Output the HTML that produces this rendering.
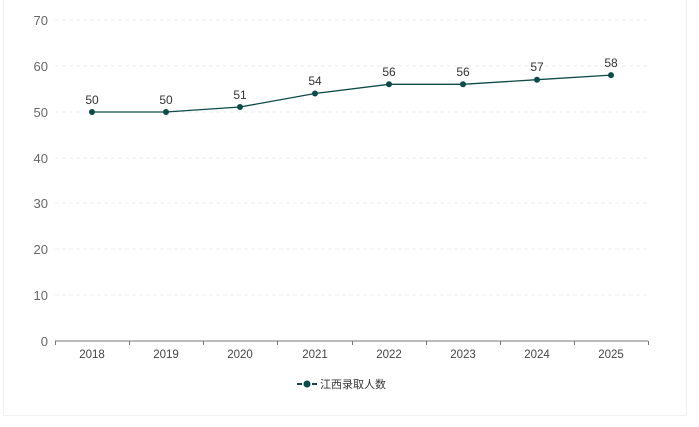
<!DOCTYPE html>
<html><head><meta charset="utf-8"><style>
body{margin:0;background:#fff;}
svg{display:block;font-family:"Liberation Sans","Noto Sans CJK SC",sans-serif;}
</style></head><body>
<svg width="699" height="427" viewBox="0 0 699 427">
<rect x="3.5" y="-2" width="683" height="417.5" fill="#fff" stroke="#eef2f2"/>
<g stroke="#ececec" stroke-dasharray="4,3">
<line x1="55" x2="648" y1="20" y2="20"/><line x1="55" x2="648" y1="66" y2="66"/>
<line x1="55" x2="648" y1="112" y2="112"/><line x1="55" x2="648" y1="158" y2="158"/>
<line x1="55" x2="648" y1="203" y2="203"/><line x1="55" x2="648" y1="249" y2="249"/>
<line x1="55" x2="648" y1="295" y2="295"/>
</g>
<line x1="55" x2="648" y1="341" y2="341" stroke="#777"/>
<g stroke="#777">
<line x1="55.5" x2="55.5" y1="341" y2="345"/><line x1="129.5" x2="129.5" y1="341" y2="345"/>
<line x1="203.5" x2="203.5" y1="341" y2="345"/><line x1="277.5" x2="277.5" y1="341" y2="345"/>
<line x1="352.5" x2="352.5" y1="341" y2="345"/><line x1="426.5" x2="426.5" y1="341" y2="345"/>
<line x1="500.5" x2="500.5" y1="341" y2="345"/><line x1="574.5" x2="574.5" y1="341" y2="345"/>
<line x1="648.5" x2="648.5" y1="341" y2="345"/>
</g>
<g fill="#666" font-size="13" text-anchor="end">
<text x="48" y="25">70</text><text x="48" y="71">60</text><text x="48" y="117">50</text>
<text x="48" y="163">40</text><text x="48" y="208">30</text><text x="48" y="254">20</text>
<text x="48" y="300">10</text><text x="48" y="346">0</text>
</g>
<g fill="#444" font-size="11.5" text-anchor="middle">
<text x="92" y="358">2018</text><text x="166" y="358">2019</text><text x="240" y="358">2020</text>
<text x="315" y="358">2021</text><text x="389" y="358">2022</text><text x="463" y="358">2023</text>
<text x="537" y="358">2024</text><text x="611" y="358">2025</text>
</g>
<polyline fill="none" stroke="#0d4a4a" stroke-width="1.3" points="92,112 166,112 240,107 315,93.5 389,84.3 463,84.3 537,79.7 611,75.1"/>
<g fill="#0d4a4a">
<circle cx="92" cy="112" r="3"/><circle cx="166" cy="112" r="3"/><circle cx="240" cy="107" r="3"/>
<circle cx="315" cy="93.5" r="3"/><circle cx="389" cy="84.3" r="3"/><circle cx="463" cy="84.3" r="3"/>
<circle cx="537" cy="79.7" r="3"/><circle cx="611" cy="75.1" r="3"/>
</g>
<g fill="#333" font-size="12" text-anchor="middle">
<text x="92" y="104">50</text><text x="166" y="104">50</text><text x="240" y="99">51</text>
<text x="315" y="85">54</text><text x="389" y="76">56</text><text x="463" y="76">56</text>
<text x="537" y="71">57</text><text x="611" y="67">58</text>
</g>
<line x1="297" x2="302" y1="384" y2="384" stroke="#0d4a4a" stroke-width="2"/>
<line x1="312" x2="317" y1="384" y2="384" stroke="#0d4a4a" stroke-width="2"/>
<circle cx="307" cy="384" r="3.5" fill="#0d4a4a"/>
<text x="320" y="388" font-size="11" fill="#333">江西录取人数</text>
</svg>
</body></html>
